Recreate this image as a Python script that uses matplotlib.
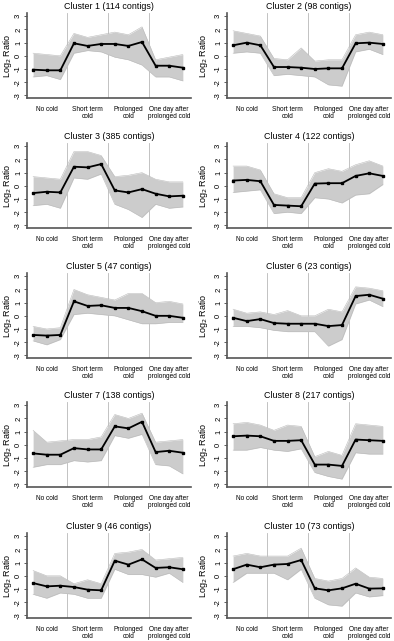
import matplotlib
matplotlib.use("Agg")
import matplotlib.pyplot as plt

plt.rcParams["font.family"] = ["Liberation Sans", "DejaVu Sans"]

# ── データ ──
time_points = list(range(1, 13))
group_labels = ["No cold", "Short term\ncold", "Prolonged\ncold", "One day after\nprolonged cold"]
group_centers = [2, 5, 8, 11]
separators = [3.5, 6.5, 9.5]

cluster_titles = [
    "Cluster 1 (114 contigs)", "Cluster 2 (98 contigs)",
    "Cluster 3 (385 contigs)", "Cluster 4 (122 contigs)",
    "Cluster 5 (47 contigs)", "Cluster 6 (23 contigs)",
    "Cluster 7 (138 contigs)", "Cluster 8 (217 contigs)",
    "Cluster 9 (46 contigs)", "Cluster 10 (73 contigs)",
]

# 平均プロファイル（黒線）
mean_1 = [-1.05, -1.1, -1.1, 0.95, 0.75, 0.9, 0.9, 0.75, 1.05, -0.75, -0.75, -0.9]
mean_2 = [0.8, 1.0, 0.8, -0.85, -0.85, -0.9, -1.0, -0.95, -0.95, 0.95, 1.0, 0.9]
mean_3 = [-0.55, -0.45, -0.5, 1.45, 1.4, 1.65, -0.35, -0.5, -0.25, -0.6, -0.8, -0.75]
mean_4 = [0.4, 0.45, 0.35, -1.45, -1.5, -1.55, 0.17, 0.2, 0.2, 0.75, 0.95, 0.75]
mean_5 = [-1.45, -1.5, -1.45, 1.1, 0.75, 0.8, 0.6, 0.6, 0.35, 0.0, 0.0, -0.15]
mean_6 = [-0.15, -0.4, -0.25, -0.55, -0.6, -0.6, -0.6, -0.78, -0.7, 1.5, 1.6, 1.3]
mean_7 = [-0.65, -0.75, -0.75, -0.25, -0.35, -0.35, 1.4, 1.25, 1.75, -0.55, -0.45, -0.6]
mean_8 = [0.65, 0.7, 0.65, 0.3, 0.3, 0.35, -1.5, -1.5, -1.6, 0.4, 0.35, 0.3]
mean_9 = [-0.55, -0.8, -0.75, -0.85, -1.05, -1.1, 1.15, 0.85, 1.25, 0.6, 0.65, 0.5]
mean_10 = [0.5, 0.85, 0.65, 0.85, 0.9, 1.2, -0.95, -1.1, -0.95, -0.6, -0.97, -0.95]

# 個別コンティグの上限・下限（灰色の帯）
upper_1 = [0.2, 0.1, 0.0, 1.7, 1.4, 1.6, 1.8, 1.6, 2.2, -0.3, -0.1, 0.1]
lower_1 = [-1.6, -1.5, -1.8, 0.2, 0.4, 0.3, -0.1, -0.3, -0.7, -1.6, -1.6, -1.9]
upper_2 = [1.9, 1.7, 1.5, -0.2, -0.3, 0.6, -0.4, -0.3, -0.3, 1.6, 1.8, 1.6]
lower_2 = [0.2, 0.3, 0.2, -1.5, -1.4, -1.5, -1.6, -2.2, -2.3, 0.3, 0.5, 0.1]
upper_3 = [0.7, 0.6, 0.5, 2.6, 2.6, 2.3, 0.7, 0.8, 1.0, 0.5, 0.3, 0.3]
lower_3 = [-1.5, -1.4, -1.7, 0.6, 0.5, 0.9, -1.4, -1.8, -2.4, -1.4, -1.7, -1.6]
upper_4 = [1.5, 1.5, 1.2, -0.6, -0.9, -0.9, 1.0, 1.3, 1.1, 1.6, 1.9, 1.5]
lower_4 = [-0.5, -0.4, -0.3, -2.1, -2.0, -2.1, -0.9, -1.0, -1.3, -0.7, -0.6, 0.1]
upper_5 = [-0.8, -1.0, -0.9, 2.0, 1.6, 1.4, 1.2, 1.7, 1.7, 1.0, 1.1, 0.9]
lower_5 = [-1.9, -2.2, -1.8, 0.1, 0.2, 0.1, 0.0, -0.3, -0.6, -0.6, -0.5, -0.5]
upper_6 = [0.5, 0.2, 0.3, 0.1, 0.4, 0.0, 0.0, 0.5, 0.3, 2.2, 2.1, 1.9]
lower_6 = [-0.8, -0.8, -0.9, -1.1, -1.2, -1.2, -1.2, -2.3, -1.8, 0.9, 1.2, 0.7]
upper_7 = [1.1, 0.2, 0.3, 0.4, 0.4, 0.6, 2.3, 2.0, 2.4, 0.2, 0.3, 0.4]
lower_7 = [-1.7, -1.5, -1.5, -1.2, -1.3, -1.2, 0.7, 0.5, 0.8, -1.5, -1.6, -2.2]
upper_8 = [1.6, 1.7, 1.5, 1.1, 1.5, 1.4, -0.9, -0.5, -0.8, 1.6, 1.5, 1.4]
lower_8 = [-0.4, -0.4, -0.2, -0.4, -0.5, -0.3, -2.1, -2.4, -2.6, -0.6, -0.7, -0.7]
upper_9 = [0.4, 0.0, 0.0, -0.6, -0.3, -0.6, 1.7, 1.8, 2.0, 1.2, 1.3, 1.4]
lower_9 = [-1.4, -1.7, -1.3, -1.4, -1.7, -1.7, 0.5, 0.1, 0.1, -0.1, 0.2, -0.5]
upper_10 = [1.5, 1.7, 1.5, 1.5, 1.5, 2.1, -0.2, -0.4, -0.2, 0.6, -0.1, -0.2]
lower_10 = [-0.5, 0.2, 0.2, 0.2, -0.3, 0.5, -1.7, -2.2, -2.3, -1.3, -1.6, -1.5]

means = [mean_1, mean_2, mean_3, mean_4, mean_5, mean_6, mean_7, mean_8, mean_9, mean_10]
uppers = [upper_1, upper_2, upper_3, upper_4, upper_5, upper_6, upper_7, upper_8, upper_9, upper_10]
lowers = [lower_1, lower_2, lower_3, lower_4, lower_5, lower_6, lower_7, lower_8, lower_9, lower_10]
y_ticks = [-3, -2, -1, 0, 1, 2, 3]

# ── レイアウト（ピクセル基準） ──
W, H = 394, 641
row_tops = [13, 143, 273, 402, 533]
ax_h = 85
col_lefts = [27, 227]
ax_w = 164
ylabel_x = [-0.08, -0.105]  # 軸座標でのy軸ラベル位置

fig = plt.figure(figsize=(W / 100, H / 100), dpi=100)
fig.patch.set_facecolor("white")

for i in range(10):
    r, c = divmod(i, 2)
    rect = [col_lefts[c] / W, 1 - (row_tops[r] + ax_h) / H, ax_w / W, ax_h / H]
    ax = fig.add_axes(rect)

    for s in separators:
        ax.axvline(s, color="#b8b8b8", linewidth=0.6, zorder=1)

    ax.fill_between(time_points, lowers[i], uppers[i], color="#cccccc", linewidth=0, zorder=2)
    ax.plot(time_points, uppers[i], color="#bbbbbb", linewidth=0.4, zorder=2)
    ax.plot(time_points, lowers[i], color="#bbbbbb", linewidth=0.4, zorder=2)
    ax.plot(time_points, means[i], color="black", linewidth=1.3, marker="s",
            markersize=1.8, zorder=3)

    ax.set_xlim(0.55, 12.6)
    ax.set_ylim(-3.2, 3.25)
    ax.set_yticks(y_ticks)
    ax.set_yticklabels([str(t) for t in y_ticks], rotation=90, va="center", fontsize=5.5)
    ax.set_xticks(group_centers)
    ax.set_xticklabels(group_labels, fontsize=4.7, linespacing=1.1)
    ax.tick_params(axis="x", length=0, pad=5.5)
    ax.tick_params(axis="y", length=2, width=0.6, pad=1.5, color="#444444")

    for side in ["top", "right"]:
        ax.spines[side].set_visible(False)
    for side in ["left", "bottom"]:
        ax.spines[side].set_color("#555555")
        ax.spines[side].set_linewidth(1.2)

    ax.set_title(cluster_titles[i], fontsize=6.4, pad=3)
    ax.set_ylabel("Log$_2$ Ratio", fontsize=6.5)
    ax.yaxis.set_label_coords(ylabel_x[c], 0.5)

fig.savefig("out.png", dpi=100)
